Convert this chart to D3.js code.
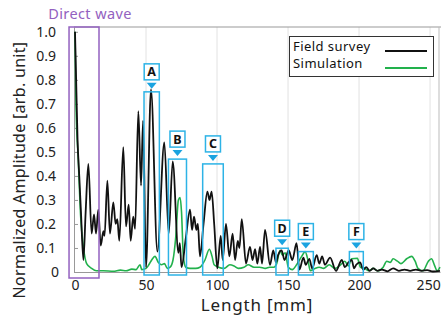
<!DOCTYPE html>
<html>
<head>
<meta charset="utf-8">
<script src="https://cdn.jsdelivr.net/npm/d3@7"></script>
<style>
  body { margin: 0; background: #fff; }
  svg text { font-family: "Noto Sans", "DejaVu Sans", sans-serif; }
</style>
</head>
<body>
<div id="chart"></div>
<script>
// Field survey trace, [length mm, normalized amplitude]
const fieldSurvey = [
  [0,1.0],[0.8,0.8],[1.8,0.55],[3,0.40],[4.2,0.25],[5.9,0.05],[7.5,0.25],[9.4,0.45],[11.7,0.16],[13.4,0.24],
  [14.8,0.16],[16.4,0.26],[18.1,0.11],[20,0.17],[20.8,0.15],[22.8,0.38],[24.6,0.16],[27,0.29],[28.6,0.2],[29.8,0.22],
  [31.2,0.13],[34,0.52],[35.9,0.19],[37.8,0.28],[39.2,0.13],[41,0.23],[42.3,0.18],[44.6,0.67],[46.5,0.36],[47.9,0.63],
  [50,0.02],[53.5,0.76],[58,0.085],[62.9,0.54],[66,0.16],[68.8,0.46],[72.8,0.08],[73.8,0.12],[75,0.02],[78,0.14],
  [81,0.26],[82.4,0.175],[83.8,0.23],[85.5,0.175],[86.5,0.2],[88,0.065],[90.5,0.2],[93.2,0.335],[94.7,0.30],[96.2,0.335],
  [98,0.2],[100.2,0.015],[102.6,0.15],[104,0.05],[106.3,0.2],[108.7,0.065],[111,0.16],[112.7,0.05],[114.6,0.13],[115.8,0.1],
  [117.4,0.22],[120.4,0.035],[123.2,0.105],[125,0.05],[126.8,0.095],[128.4,0.035],[130.3,0.105],[131.7,0.035],[133.8,0.175],[137.3,0.03],
  [139.6,0.09],[141.5,0.04],[143,0.07],[145.5,0.09],[147.5,0.05],[150.5,0.09],[153,0.05],[156,0.12],[158,0.01],[160.8,0.06],
  [162.5,0.03],[165,0.055],[167,0.015],[170.2,0.07],[172,0.035],[174,0.065],[176,0.03],[179.6,0.06],[183.8,0.005],[187.8,0.05],
  [190,0.02],[192.5,0.04],[194.8,0.05],[196.5,0.015],[198,0.03],[200.7,0.04],[203,0.01],[205,0.02],[207.5,0.005],[210,0.015],
  [213,0.005],[216,0.01],[220,0.003],[224,0.015],[228,0.005],[232,0.01],[236,0.005],[240,0.01],[244,0.005],[248,0.008],
  [252,0.002],[257,0.005]
];

// Simulation trace
const simulation = [
  [0,1.0],[0.7,0.69],[2.3,0.47],[4,0.23],[5.9,0.105],[8.2,0.035],[11.7,0.015],[15,0.005],[20,0.005],[27,0.003],
  [32,0.008],[36,0.005],[40,0.012],[43,0.01],[45.8,0.03],[47,0.01],[50,0.015],[52,0.03],[54,0.05],[56.3,0.065],
  [58.7,0.04],[61,0.03],[63,0.035],[65,0.015],[67,0.02],[69,0.05],[71,0.15],[72.8,0.30],[74,0.31],[75,0.25],
  [76.3,0.065],[78,0.02],[81,0.015],[85,0.015],[88,0.02],[91.5,0.05],[94.6,0.095],[96.5,0.065],[98,0.03],[101,0.02],
  [105,0.015],[109,0.03],[112,0.025],[115,0.015],[119,0.02],[122,0.03],[126,0.02],[130,0.02],[134,0.015],[137,0.02],
  [140,0.02],[142,0.035],[144.4,0.09],[146,0.07],[148,0.08],[150.2,0.02],[153,0.01],[156,0.03],[159.6,0.065],[162,0.085],
  [164,0.05],[165.7,0.005],[169,0.015],[172,0.02],[175,0.015],[179,0.03],[183,0.015],[187,0.03],[190,0.045],[192.5,0.025],
  [194.8,0.055],[198.8,0.057],[201,0.02],[204,0.015],[207,0.005],[210,0.015],[213,0.005],[217,0.02],[219.5,0.045],[222,0.04],
  [224,0.055],[227,0.045],[229.5,0.035],[233.6,0.055],[237,0.065],[239.5,0.045],[241.5,0.015],[245,0.005],[248.8,0.045],[251,0.055],
  [253,0.03],[255,0.005],[257,0.02]
];

const xTicks = [0, 50, 100, 150, 200, 250];
const yTicks = [0, 0.1, 0.2, 0.3, 0.4, 0.5, 0.6, 0.7, 0.8, 0.9, 1.0];

// marked regions: label, from mm, to mm, top amplitude
const markLabels = ["A", "B", "C", "D", "E", "F"];
const markFrom   = [48.6, 65.8, 89.9, 141.5, 157.3, 193.2];
const markTo     = [59.4, 78.5, 104.4, 150.2, 167.8, 203];
const markTop    = [0.75, 0.47, 0.45, 0.099, 0.085, 0.085];

const directWave = { label: "Direct wave", from: -4.2, to: 16.9 };

const width = 441, height = 320;
const margin = { top: 27, right: 1, bottom: 48, left: 75 };

const svg = d3.select("#chart").append("svg")
  .attr("width", width)
  .attr("height", height);

const x = d3.scaleLinear().domain([0, 257]).range([margin.left, width - margin.right]);
const y = d3.scaleLinear().domain([0, 1.02]).range([height - margin.bottom, margin.top]);

// vertical grid
svg.append("g")
  .selectAll("line")
  .data(xTicks.filter(d => d > 0))
  .enter().append("line")
  .attr("x1", d => x(d)).attr("x2", d => x(d))
  .attr("y1", y.range()[1]).attr("y2", y(0))
  .attr("stroke", "#e2e2e2")
  .attr("stroke-width", 1);

// y axis, ticks pointing in
const yAxis = svg.append("g")
  .attr("transform", `translate(${x(0) - 1},0)`)
  .call(d3.axisLeft(y).tickValues(yTicks).tickSizeInner(-4).tickSizeOuter(0).tickPadding(18)
    .tickFormat(d => d === 0 ? "0" : d3.format(".1f")(d)));
yAxis.select(".domain").attr("stroke", "#999");
yAxis.selectAll(".tick line").attr("stroke", "#999");
yAxis.selectAll("text").attr("font-size", 14).attr("fill", "#222");
yAxis.selectAll(".tick").filter(d => d === 0).select("text").attr("x", -15);

// x axis
const xAxis = svg.append("g")
  .attr("transform", `translate(0,${y(0)})`)
  .call(d3.axisBottom(x).tickValues(xTicks).tickSize(0).tickPadding(8));
xAxis.select(".domain").attr("stroke", "#999");
xAxis.selectAll("text").attr("font-size", 14).attr("fill", "#222");
// last label sits against the right edge, as in the original
xAxis.selectAll(".tick").filter(d => d === 250).select("text")
  .attr("text-anchor", "end").attr("dx", "0.72em");

// top and right frame
svg.append("line")
  .attr("x1", x(0) - 1).attr("x2", width)
  .attr("y1", y.range()[1]).attr("y2", y.range()[1])
  .attr("stroke", "#999");
svg.append("line")
  .attr("x1", x(257) - 1).attr("x2", x(257) - 1)
  .attr("y1", y.range()[1]).attr("y2", y(0))
  .attr("stroke", "#bbb");

const line = d3.line()
  .curve(d3.curveMonotoneX)
  .x(d => x(d[0]))
  .y(d => y(d[1]));

svg.append("path")
  .datum(simulation)
  .attr("fill", "none")
  .attr("stroke", "#22b14c")
  .attr("stroke-width", 1.6)
  .attr("d", line);

svg.append("path")
  .datum(fieldSurvey)
  .attr("fill", "none")
  .attr("stroke", "#111")
  .attr("stroke-width", 1.8)
  .attr("d", line);

// direct wave box
const purple = "#9361c0";
svg.append("rect")
  .attr("x", x(directWave.from))
  .attr("y", y.range()[1])
  .attr("width", x(directWave.to) - x(directWave.from))
  .attr("height", y(0) + 6 - y.range()[1])
  .attr("fill", "none")
  .attr("stroke", purple)
  .attr("stroke-width", 1.5);
svg.append("text")
  .attr("x", 90)
  .attr("y", 19)
  .attr("text-anchor", "middle")
  .attr("font-size", 14.5)
  .attr("letter-spacing", 0.4)
  .attr("fill", purple)
  .text(directWave.label);

// marked regions
const cyan = "#2db3e6";
const marks = svg.append("g");
markLabels.forEach((lab, i) => {
  const x0 = x(markFrom[i]), x1 = x(markTo[i]);
  const yt = y(markTop[i]);
  const cx = (x0 + x1) / 2;
  marks.append("rect")
    .attr("x", x0).attr("y", yt)
    .attr("width", x1 - x0).attr("height", y(0) + 3 - yt)
    .attr("fill", "none")
    .attr("stroke", cyan)
    .attr("stroke-width", 1.5);
  marks.append("path")
    .attr("d", `M${cx - 5},${yt - 9}L${cx + 5},${yt - 9}L${cx},${yt - 3}Z`)
    .attr("fill", "#1aa3e0");
  marks.append("rect")
    .attr("x", cx - 7.5).attr("y", yt - 28)
    .attr("width", 15).attr("height", 16)
    .attr("fill", "#fff")
    .attr("stroke", cyan)
    .attr("stroke-width", 1.5);
  marks.append("text")
    .attr("x", cx).attr("y", yt - 15.5)
    .attr("text-anchor", "middle")
    .attr("font-size", 12.5)
    .attr("font-weight", "bold")
    .attr("fill", "#111")
    .text(lab);
});

// legend
const legend = svg.append("g");
legend.append("rect")
  .attr("x", 289.5).attr("y", 36.5)
  .attr("width", 144).attr("height", 40)
  .attr("fill", "#fff")
  .attr("stroke", "#333")
  .attr("stroke-width", 1);
[["Field survey", "#111", 50.5, 51], ["Simulation", "#22b14c", 68, 68]].forEach(([name, col, ty, ly]) => {
  legend.append("text")
    .attr("x", 293).attr("y", ty)
    .attr("font-family", "Roboto, sans-serif")
    .attr("font-size", 13)
    .attr("letter-spacing", 0.45)
    .attr("fill", "#111")
    .text(name);
  legend.append("line")
    .attr("x1", 385).attr("x2", 427)
    .attr("y1", ly).attr("y2", ly)
    .attr("stroke", col)
    .attr("stroke-width", 1.8);
});

// axis titles
svg.append("text")
  .attr("x", 257).attr("y", 311)
  .attr("text-anchor", "middle")
  .attr("font-size", 17)
  .attr("letter-spacing", 0.8)
  .attr("fill", "#222")
  .text("Length [mm]");

svg.append("text")
  .attr("transform", "translate(25,170) rotate(-90)")
  .attr("text-anchor", "middle")
  .attr("font-size", 16)
  .attr("letter-spacing", 0.3)
  .attr("fill", "#222")
  .text("Normalized Amplitude [arb. unit]");
</script>
</body>
</html>
